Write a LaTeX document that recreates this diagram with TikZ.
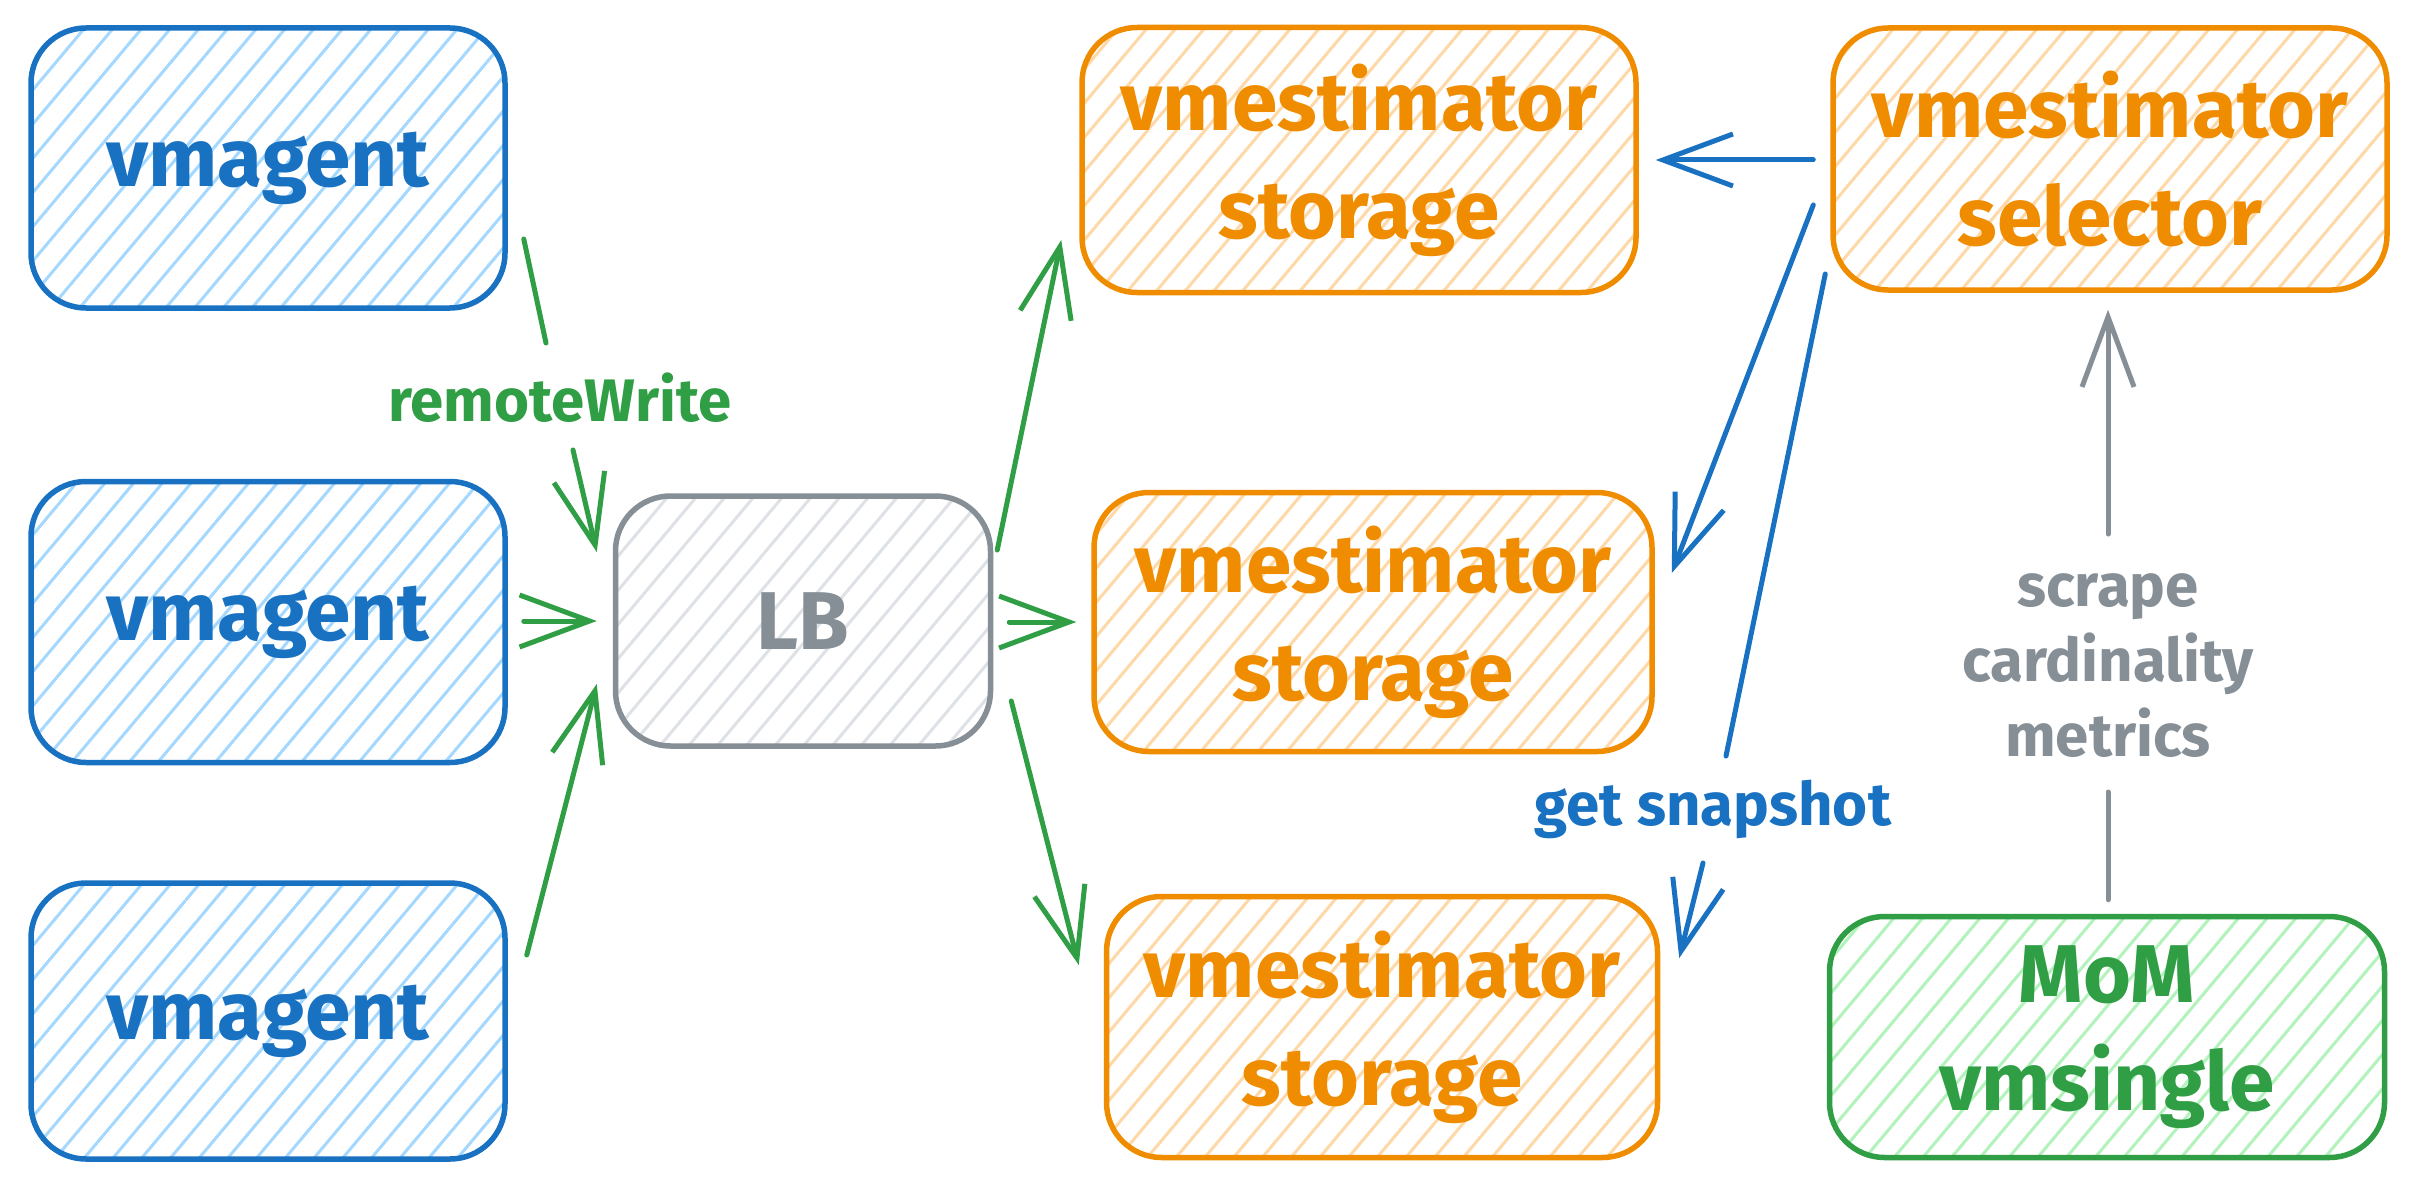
\documentclass[tikz,border=0pt]{standalone}
\usepackage{fontspec}
\setmainfont{Fira Sans}
\usetikzlibrary{arrows.meta,patterns.meta,calc}
\definecolor{blueS}{HTML}{1971C2}
\definecolor{blueH}{HTML}{A5D8FF}
\definecolor{orangeS}{HTML}{F08C00}
\definecolor{orangeH}{HTML}{FFD8A8}
\definecolor{greenS}{HTML}{2F9E44}
\definecolor{greenH}{HTML}{B2F2BB}
\definecolor{grayS}{HTML}{868E96}
\definecolor{grayH}{HTML}{DEE2E6}
\begin{document}
\begin{tikzpicture}[x=1pt,y=-1pt,
  box/.style={draw=#1S, pattern={Lines[angle=50,distance=22pt,line width=3pt]}, pattern color=#1H,
    line width=5.5pt, rounded corners=55pt, text=#1S, font=\fontsize{82}{108}\selectfont\bfseries,
    align=center, inner sep=0pt},
  lbl/.style={text=#1S, font=\fontsize{60}{75}\selectfont\bfseries, align=center, inner sep=0pt},
  conn/.style={draw=#1S, line width=5pt, line cap=round},
  arr/.style={conn=#1, -{Straight Barb[length=70pt,width=52pt]}},
]
\fill[white] (0,0) rectangle (2416,1190);
\useasboundingbox (0,0) rectangle (2416,1190);

% boxes
\node[box=blue, minimum width=474pt, minimum height=280pt] (v1) at (268,168) {vmagent};
\node[box=blue, minimum width=474pt, minimum height=281pt] (v2) at (268,622) {vmagent};
\node[box=blue, minimum width=474pt, minimum height=276pt] (v3) at (268,1021) {vmagent};
\node[box=gray, minimum width=375pt, minimum height=250pt] (lb) at (803,621) {LB};
\node[box=orange, minimum width=554pt, minimum height=265pt] (s1) at (1359,160) {vmestimator\\storage};
\node[box=orange, minimum width=558pt, minimum height=259pt] (s2) at (1373,622) {vmestimator\\storage};
\node[box=orange, minimum width=551pt, minimum height=261pt] (s3) at (1382,1027) {vmestimator\\storage};
\node[box=orange, minimum width=554pt, minimum height=262pt] (sel) at (2110,159) {vmestimator\\selector};
\node[box=green, minimum width=555pt, minimum height=241pt] (mom) at (2107,1037) {MoM\\vmsingle};

% labels
\node[lbl=green] (rw) at (560,398) {remoteWrite};
\node[lbl=blue] (gs) at (1713,809) {get snapshot};
\node[lbl=gray] (scm) at (2108,666) {scrape\\cardinality\\metrics};

% green connectors
\draw[conn=green] ([shift={(16,71)}]v1.east) -- ([shift={(-14,-55)}]rw.center);
\draw[arr=green] ([shift={(13,52)}]rw.center) -- ([shift={(-16,-69)}]lb.west);
\draw[arr=green] ([shift={(16,-1)}]v2.east) -- ([shift={(-16,0)}]lb.west);
\draw[arr=green] ([shift={(19,-66)}]v3.east) -- ([shift={(-16,63)}]lb.west);
\draw[arr=green] ([shift={(4,-71)}]lb.east) -- ([shift={(-18,80)}]s1.west);
\draw[arr=green] ([shift={(16,1)}]lb.east) -- ([shift={(-15,0)}]s2.west);
\draw[arr=green] ([shift={(18,80)}]lb.east) -- ([shift={(-25,-62)}]s3.west);

% blue connectors
\draw[arr=blue] ([shift={(-17,1)}]sel.west) -- ([shift={(17,0)}]s1.east);
\draw[arr=blue] ([shift={(-17,46)}]sel.west) -- ([shift={(17,-49)}]s2.east);
\draw[conn=blue] ([shift={(-5,115)}]sel.west) -- ([shift={(13,-53)}]gs.center);
\draw[arr=blue] ([shift={(-10,54)}]gs.center) -- ([shift={(19,-69)}]s3.east);

% gray connector
\draw[conn=gray] ([shift={(1,-14)}]mom.north) -- ([shift={(0,126)}]scm.center);
\draw[arr=gray] ([shift={(0,-132)}]scm.center) -- ([shift={(-2,17)}]sel.south);
\end{tikzpicture}
\end{document}
